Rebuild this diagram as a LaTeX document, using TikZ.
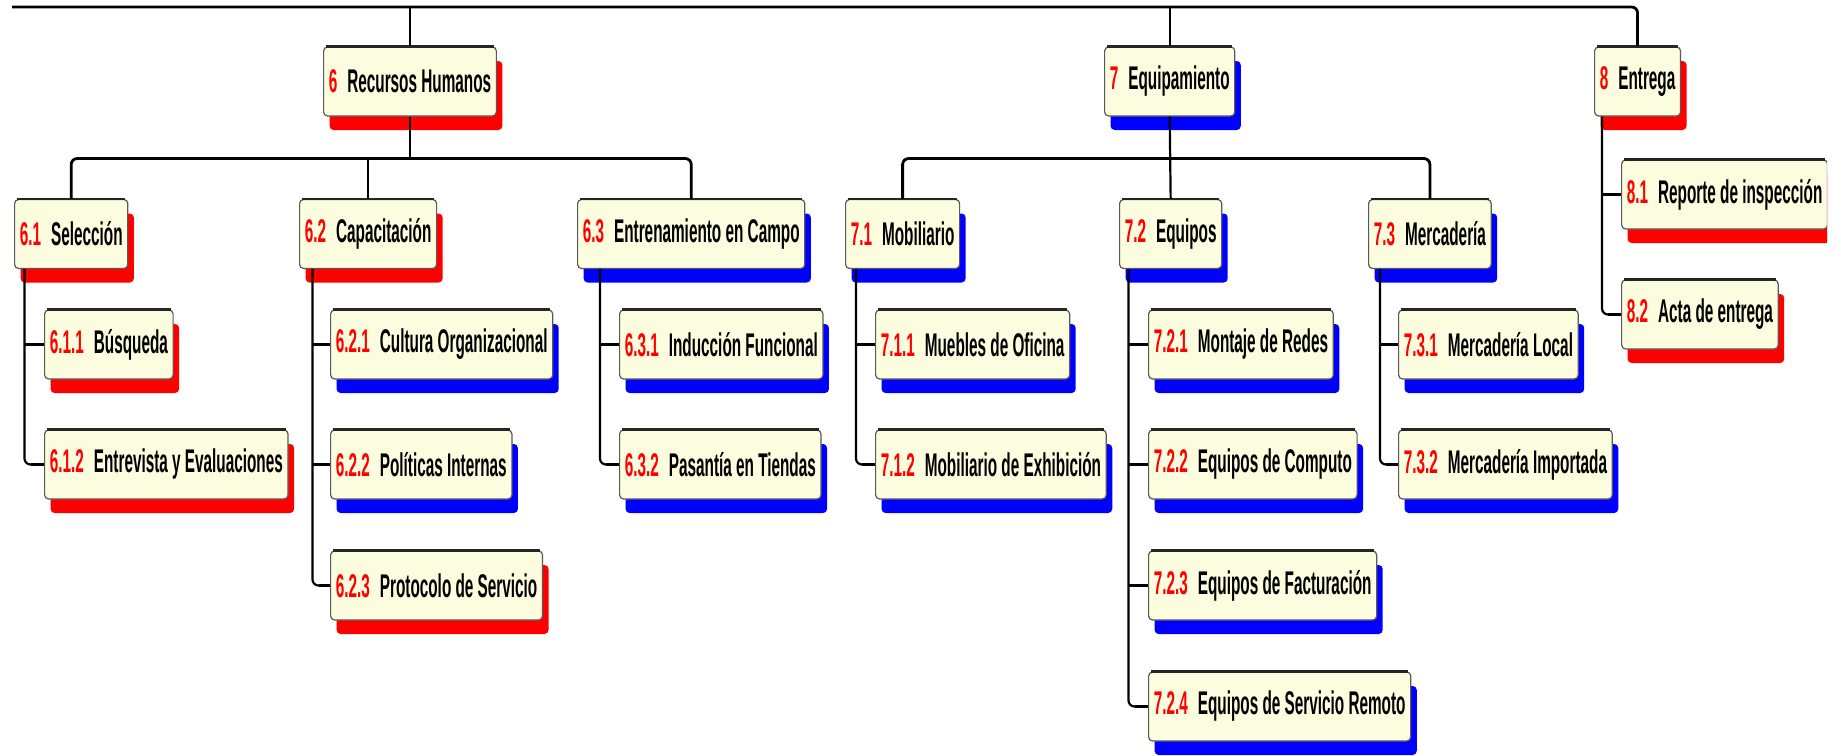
\documentclass[tikz,border=0pt]{standalone}
\usepackage{fontspec}
\usetikzlibrary{shadows}
\newfontfamily\wbsfont{Liberation Sans}[FakeStretch=0.467]
\definecolor{boxfill}{HTML}{FCFCDE}
\definecolor{numred}{HTML}{FF0000}
\definecolor{shred}{HTML}{FF0000}
\definecolor{shblue}{HTML}{0000FF}
\newcommand{\wbslabel}[2]{{\color{numred}#1}\hspace{5pt}#2}

\tikzset{
  wbsbox/.style={draw=black!65, line width=0.6pt, fill=boxfill, rounded corners=2pt,
    minimum height=34.5pt, inner xsep=2.6pt, inner ysep=0pt, anchor=west,
    font=\wbsfont\bfseries\fontsize{16.4}{18}\selectfont, text=black},
  redbox/.style={wbsbox, general shadow={shadow xshift=3pt, shadow yshift=-7pt, fill=shred}},
  bluebox/.style={wbsbox, general shadow={shadow xshift=3pt, shadow yshift=-7pt, fill=shblue}},
  bus/.style={draw=black, line width=1.4pt, rounded corners=3pt},
  drop/.style={draw=black, line width=1.1pt},
  spine/.style={draw=black, line width=1.1pt, rounded corners=3pt},
  stub/.style={draw=black, line width=1.7pt},
  topedge/.style={draw=black!85, line width=1.1pt},
}

\begin{document}
\begin{tikzpicture}[x=0.5pt, y=-0.5pt]
\useasboundingbox (0,0) rectangle (1841,755);
\clip (0,0) rectangle (1827,755);

% level 1
\node[redbox]  (n6) at (323,81.5)  {\wbslabel{6}{Recursos Humanos}};
\node[bluebox] (n7) at (1104,81.5) {\wbslabel{7}{Equipamiento}};
\node[redbox]  (n8) at (1594,81.5) {\wbslabel{8}{Entrega}};

% level 2
\node[redbox]  (n61) at (14,234)   {\wbslabel{6.1}{Selección}};
\node[redbox]  (n62) at (299,234)  {\wbslabel{6.2}{Capacitación}};
\node[bluebox] (n63) at (577,234)  {\wbslabel{6.3}{Entrenamiento en Campo}};
\node[bluebox] (n71) at (845,234)  {\wbslabel{7.1}{Mobiliario}};
\node[bluebox] (n72) at (1119,234) {\wbslabel{7.2}{Equipos}};
\node[bluebox] (n73) at (1368,234) {\wbslabel{7.3}{Mercadería}};

% level 3
\node[redbox]  (n611) at (44,344.5)   {\wbslabel{6.1.1}{Búsqueda}};
\node[redbox]  (n612) at (44,464.5)   {\wbslabel{6.1.2}{Entrevista y Evaluaciones}};
\node[bluebox] (n621) at (330,344.5)  {\wbslabel{6.2.1}{Cultura Organizacional}};
\node[bluebox] (n622) at (330,464.5)  {\wbslabel{6.2.2}{Políticas Internas}};
\node[redbox]  (n623) at (330,585.5)  {\wbslabel{6.2.3}{Protocolo de Servicio}};
\node[bluebox] (n631) at (619,344.5)  {\wbslabel{6.3.1}{Inducción Funcional}};
\node[bluebox] (n632) at (619,464.5)  {\wbslabel{6.3.2}{Pasantía en Tiendas}};
\node[bluebox] (n711) at (875,344.5)  {\wbslabel{7.1.1}{Muebles de Oficina}};
\node[bluebox] (n712) at (875,464.5)  {\wbslabel{7.1.2}{Mobiliario de Exhibición}};
\node[bluebox] (n721) at (1148,344.5) {\wbslabel{7.2.1}{Montaje de Redes}};
\node[bluebox] (n722) at (1148,464.5) {\wbslabel{7.2.2}{Equipos de Computo}};
\node[bluebox] (n723) at (1148,585.5) {\wbslabel{7.2.3}{Equipos de Facturación}};
\node[bluebox] (n724) at (1148,706.5) {\wbslabel{7.2.4}{Equipos de Servicio Remoto}};
\node[bluebox] (n731) at (1398,344.5) {\wbslabel{7.3.1}{Mercadería Local}};
\node[bluebox] (n732) at (1398,464.5) {\wbslabel{7.3.2}{Mercadería Importada}};
\node[redbox]  (n81) at (1621,194.5)  {\wbslabel{8.1}{Reporte de inspección}};
\node[redbox]  (n82) at (1621,314.5)  {\wbslabel{8.2}{Acta de entrega}};

% darker top edge of every box
\foreach \n in {n6,n7,n8,n61,n62,n63,n71,n72,n73,n611,n612,n621,n622,n623,
                n631,n632,n711,n712,n721,n722,n723,n724,n731,n732,n81,n82}
  \draw[topedge] ([xshift=1.5pt]\n.north west) -- ([xshift=-1.5pt]\n.north east);

% top bus
\coordinate (topleft) at (12,7);
\draw[bus] (topleft) -| (n8.north);
\draw[drop] (n6.north) -- (n6.north |- topleft);
\draw[drop] (n7.north) -- (n7.north |- topleft);

% level 2 buses
\coordinate (bus6) at (0,158.5);
\coordinate (bus7) at (0,158.5);
\draw[bus] (n61.north) |- (bus6 -| n63.north) -- (n63.north);
\draw[drop] (n6.south) -- (n6.south |- bus6);
\draw[drop] (n62.north) -- (n62.north |- bus6);
\draw[bus] (n71.north) |- (bus7 -| n73.north) -- (n73.north);
\draw[drop] (n7.south) -- (n72.north);

% child spines
\coordinate (v61) at (24.5,0);
\coordinate (v62) at (312.5,0);
\coordinate (v63) at (600,0);
\coordinate (v71) at (856,0);
\coordinate (v72) at (1128.5,0);
\coordinate (v73) at (1380,0);
\coordinate (v8)  at (1602,0);

\draw[spine] (v61 |- n61.south) |- (n612.west);
\draw[stub] (v61 |- n611.west) -- (n611.west);
\draw[stub] ([xshift=3pt]v61 |- n612.west) -- (n612.west);

\draw[spine] (v62 |- n62.south) |- (n623.west);
\draw[stub] (v62 |- n621.west) -- (n621.west);
\draw[stub] (v62 |- n622.west) -- (n622.west);
\draw[stub] ([xshift=3pt]v62 |- n623.west) -- (n623.west);

\draw[spine] (v63 |- n63.south) |- (n632.west);
\draw[stub] (v63 |- n631.west) -- (n631.west);
\draw[stub] ([xshift=3pt]v63 |- n632.west) -- (n632.west);

\draw[spine] (v71 |- n71.south) |- (n712.west);
\draw[stub] (v71 |- n711.west) -- (n711.west);
\draw[stub] ([xshift=3pt]v71 |- n712.west) -- (n712.west);

\draw[spine] (v72 |- n72.south) |- (n724.west);
\draw[stub] (v72 |- n721.west) -- (n721.west);
\draw[stub] (v72 |- n722.west) -- (n722.west);
\draw[stub] (v72 |- n723.west) -- (n723.west);
\draw[stub] ([xshift=3pt]v72 |- n724.west) -- (n724.west);

\draw[spine] (v73 |- n73.south) |- (n732.west);
\draw[stub] (v73 |- n731.west) -- (n731.west);
\draw[stub] ([xshift=3pt]v73 |- n732.west) -- (n732.west);

\draw[spine] (v8 |- n8.south) |- (n82.west);
\draw[stub] (v8 |- n81.west) -- (n81.west);
\draw[stub] ([xshift=3pt]v8 |- n82.west) -- (n82.west);
\end{tikzpicture}
\end{document}
